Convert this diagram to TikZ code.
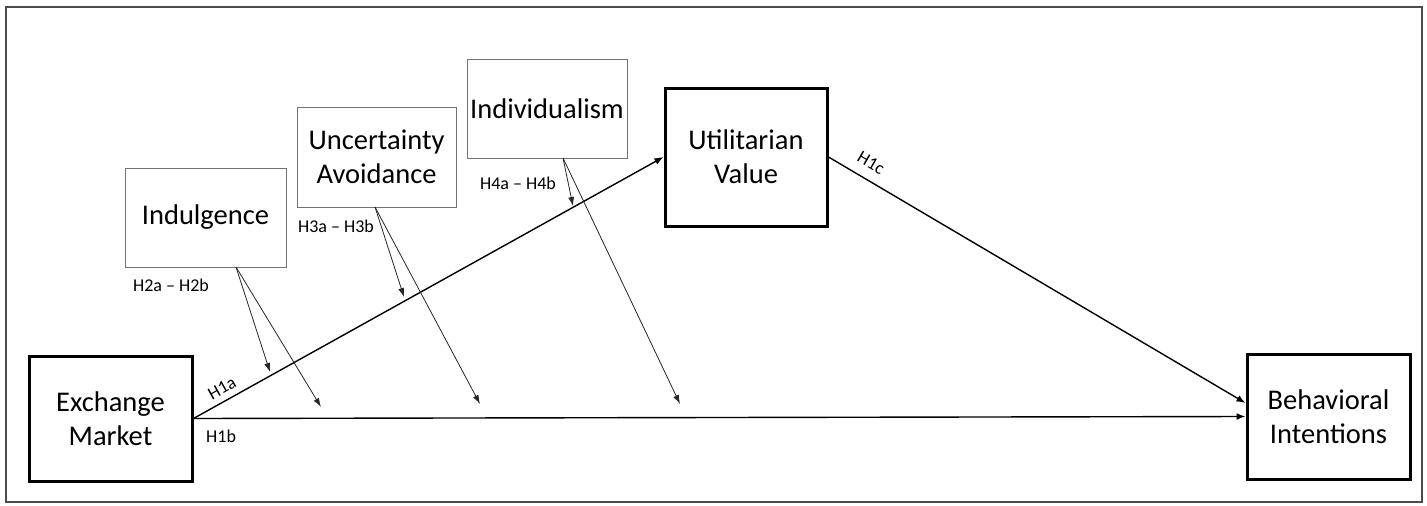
\documentclass[tikz,border=0pt]{standalone}
\usepackage{fontspec}
\setmainfont{Carlito}
\usetikzlibrary{arrows.meta,calc}
\begin{document}
\begin{tikzpicture}[x=1pt,y=-1pt,
  mainbox/.style={draw=black,line width=3pt,align=center,font=\fontsize{28.5}{34}\selectfont,inner sep=0pt},
  modbox/.style={draw=black!55,line width=0.9pt,align=center,font=\fontsize{28.5}{34}\selectfont,inner sep=0pt},
  mainarrow/.style={line width=1.4pt,-{Latex[length=9pt,width=7pt]}},
  modarrow/.style={line width=0.8pt,black!85,-{Latex[length=9pt,width=6pt]}},
  hlab/.style={font=\fontsize{18}{20}\selectfont,inner sep=0pt}]
\useasboundingbox (0,0) rectangle (1427,506);
\draw[black!70,line width=1.5pt] (6,7) rectangle (1422,502);
\node[mainbox,minimum width=163pt,minimum height=125pt] (ex) at (110.5,418.5) {Exchange\\Market};
\node[mainbox,minimum width=163pt,minimum height=125pt] (bi) at (1328.5,416.5) {Behavioral\\Intentions};
\node[mainbox,minimum width=162pt,minimum height=138pt] (uv) at (746,157) {Utilitarian\\Value};
\node[modbox,minimum width=161pt,minimum height=99pt] (ind) at (205.5,217.5) {Indulgence};
\node[modbox,minimum width=159pt,minimum height=100pt] (ua) at (376.5,157) {Uncertainty\\Avoidance};
\node[modbox,minimum width=160pt,minimum height=99pt] (idv) at (547,108.5) {Individualism};
\coordinate (bihi) at ($(bi.west)+(0,-13.5)$);
\draw[mainarrow] (ex.east) -- (uv.west);
\draw[mainarrow] (ex.east) -- (bi.west);
\draw[mainarrow] (uv.east) -- (bihi);
\node[hlab,rotate=29] (h1a) at (222,388) {H1a};
\node[hlab,anchor=west] (h1b) at (206,436) {H1b};
\node[hlab,rotate=-30] (h1c) at (871,163) {H1c};
\coordinate (s2) at (236,267);
\coordinate (e2a) at (270,372);
\coordinate (e2b) at (321,407);
\coordinate (s3) at (375,207);
\coordinate (e3a) at (404,297);
\coordinate (e3b) at (480,404);
\coordinate (s4) at (563,158);
\coordinate (e4a) at (573,206);
\coordinate (e4b) at (680,404);
\draw[modarrow] (s2) -- (e2a);
\draw[modarrow] (s2) -- (e2b);
\draw[modarrow] (s3) -- (e3a);
\draw[modarrow] (s3) -- (e3b);
\draw[modarrow] (s4) -- (e4a);
\draw[modarrow] (s4) -- (e4b);
\node[hlab] (l2) at (171,285) {H2a – H2b};
\node[hlab] (l3) at (336,226) {H3a – H3b};
\node[hlab] (l4) at (518,183) {H4a – H4b};
\end{tikzpicture}
\end{document}
